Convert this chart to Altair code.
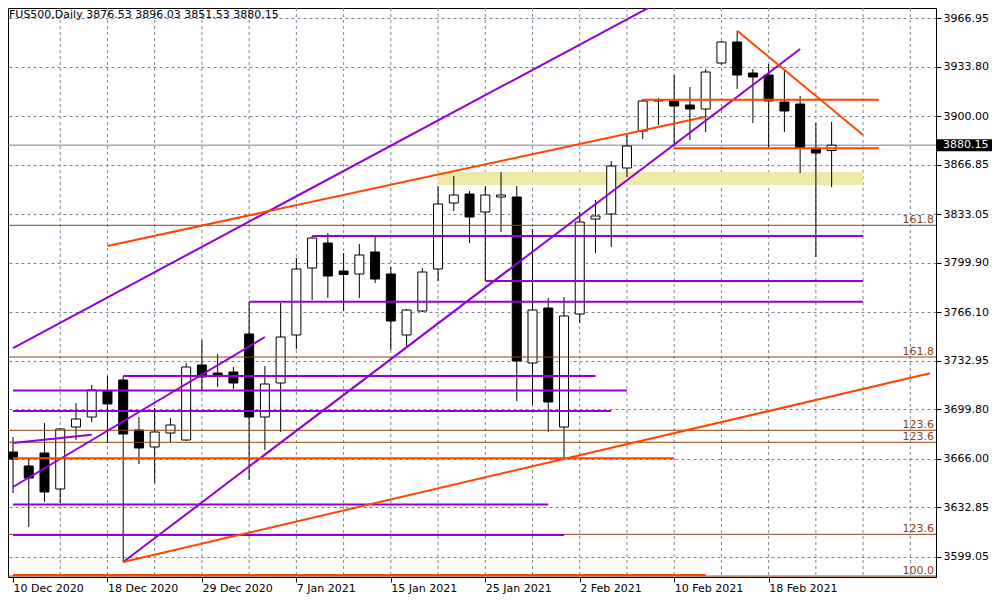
import json
import altair as alt
import pandas as pd

# ---------------- data ----------------
title_text = "FUS500,Daily  3876.53 3896.03 3851.53 3880.15"

date_labels = ["10 Dec 2020", "18 Dec 2020", "29 Dec 2020", "7 Jan 2021", "15 Jan 2021",
               "25 Jan 2021", "2 Feb 2021", "10 Feb 2021", "18 Feb 2021"]
label_bars = [0, 6, 12, 18, 24, 30, 36, 42, 48]
grid_bars = [3, 6, 9, 12, 15, 18, 21, 24, 27, 30, 33, 36, 39, 42, 45, 48, 51, 54, 57]

opens = [3670.70, 3661.15, 3670.02, 3645.45, 3687.77, 3694.59, 3712.34, 3719.85, 3685.72, 3674.11,
         3683.67, 3678.89, 3730.09, 3724.63, 3725.31, 3751.25, 3694.59, 3717.80, 3750.57, 3796.30,
         3813.36, 3794.25, 3792.20, 3807.22, 3792.20, 3750.57, 3766.95, 3795.62, 3840.67, 3846.81,
         3834.53, 3844.76, 3844.76, 3731.45, 3769.00, 3687.77, 3764.90, 3829.75, 3833.16, 3864.56,
         3889.82, 3910.29, 3910.29, 3907.56, 3904.83, 3936.23, 3950.57, 3929.41, 3928.04, 3909.61,
         3908.25, 3878.21, 3876.53]
highs = [3680.94, 3665.92, 3690.50, 3687.08, 3704.15, 3716.44, 3722.58, 3722.58, 3694.59, 3700.74,
         3693.91, 3731.45, 3747.15, 3737.60, 3728.72, 3773.09, 3729.41, 3772.41, 3803.13, 3818.15,
         3820.19, 3806.54, 3812.68, 3817.46, 3796.98, 3768.31, 3796.30, 3852.27, 3859.10, 3848.86,
         3852.27, 3861.83, 3852.27, 3822.92, 3775.82, 3776.50, 3834.53, 3842.72, 3869.34, 3887.09,
         3911.66, 3912.34, 3928.04, 3919.85, 3932.14, 3951.25, 3958.08, 3932.14, 3935.55, 3931.45,
         3913.71, 3895.28, 3896.03]
lows = [3642.71, 3619.51, 3636.57, 3635.89, 3678.89, 3691.18, 3676.84, 3595.62, 3662.51, 3649.54,
        3677.53, 3678.20, 3713.02, 3715.07, 3713.71, 3651.59, 3672.07, 3684.35, 3741.01, 3774.46,
        3775.82, 3766.95, 3775.82, 3786.06, 3740.33, 3742.37, 3766.30, 3787.43, 3835.21, 3813.36,
        3787.43, 3820.87, 3705.51, 3702.78, 3684.35, 3666.61, 3758.76, 3806.54, 3810.63, 3858.42,
        3884.36, 3893.91, 3879.58, 3883.67, 3889.13, 3934.87, 3918.49, 3895.28, 3878.89, 3889.13,
        3861.15, 3803.81, 3851.53]
closes = [3665.92, 3652.95, 3643.40, 3686.40, 3693.23, 3713.02, 3703.47, 3682.99, 3673.43, 3684.35,
          3689.13, 3728.72, 3721.90, 3722.92, 3717.80, 3694.59, 3717.12, 3749.20, 3795.62, 3816.78,
          3790.84, 3791.86, 3805.17, 3788.79, 3760.12, 3767.63, 3793.57, 3839.99, 3846.13, 3831.11,
          3846.13, 3846.13, 3732.82, 3767.63, 3704.83, 3763.54, 3827.70, 3831.80, 3865.93, 3879.58,
          3910.29, 3910.97, 3906.88, 3904.83, 3930.09, 3950.57, 3928.04, 3926.68, 3910.29, 3903.47,
          3878.21, 3874.80, 3880.15]

ytick_values = [3599.05, 3632.85, 3666.00, 3699.80, 3732.95, 3766.10, 3799.90, 3833.05,
                3866.85, 3900.00, 3933.80, 3966.95]

# drawn objects: (start bar, start price, end bar, end price)
purple_lines = [
    (0, 3741.69, 40.94, 3977.19),
    (7, 3595.62, 50, 3945.79),
    (0, 3646.81, 16, 3749.20),
    (0, 3676.84, 5, 3682.51),
    (19, 3818.15, 54, 3818.15),
    (30, 3787.43, 54, 3787.43),
    (15, 3773.30, 54, 3773.30),
    (7, 3722.58, 37, 3722.58),
    (0, 3712.68, 39, 3712.68),
    (0, 3698.69, 38, 3698.69),
    (0, 3634.86, 34, 3634.86),
    (0, 3614.05, 35, 3614.05),
]
orange_lines = [
    (6, 3811.32, 44, 3899.58),
    (7, 3595.62, 58.25, 3724.42),
    (0, 3666.40, 42, 3666.40),
    (0, 3586.74, 44, 3586.74),
    (40, 3911.18, 55, 3911.18),
    (42, 3877.99, 55, 3877.99),
    (46, 3958.28, 54, 3887.09),
]
fib_prices = [3825.45, 3735.55, 3685.52, 3677.33, 3614.50, 3586.00]
fib_labels = ["161.8", "161.8", "123.6", "123.6", "123.6", "100.0"]
zone_bars = [27, 54]
zone_prices = [3852.96, 3861.83]
last_price = 3880.15

x_domain = [0, 58.3125]
y_domain = [3585.38, 3973.78]

# ---------------- chart ----------------
W, H = 928, 569
FONT = "DejaVu Sans"
GRID = "#778899"
PURPLE = "#9400D3"
ORANGE = "#FF4500"
BROWN = "#8B4513"

xs = alt.Scale(domain=x_domain, nice=False, zero=False)
ys = alt.Scale(domain=y_domain, nice=False, zero=False)

candles = pd.DataFrame({"bar": list(range(len(opens))), "open": opens, "high": highs,
                        "low": lows, "close": closes})

label_expr = f"{json.dumps(date_labels)}[indexof({json.dumps(label_bars)}, datum.value)]"
x_axis = alt.Axis(values=label_bars, labelExpr=label_expr, title=None, grid=False, domain=False,
                  ticks=True, tickSize=5, tickColor="black", labelAlign="left", labelBaseline="top",
                  labelPadding=0, labelFlush=False, labelOverlap=False, labelFont=FONT,
                  labelFontSize=11, labelColor="black")
y_axis = alt.Axis(orient="right", values=ytick_values, format=".2f", title=None, grid=True,
                  gridColor=GRID, gridDash=[3, 3], gridWidth=1, domain=False, tickSize=5,
                  tickColor="black", labelPadding=2, labelFont=FONT, labelFontSize=11,
                  labelColor="black", labelOverlap=False)


def X(field):
    return alt.X(field, scale=xs, axis=x_axis)


def Y(field):
    return alt.Y(field, scale=ys, axis=y_axis)


vgrid = alt.Chart(pd.DataFrame({"g": grid_bars})).mark_rule(
    color=GRID, strokeDash=[3, 3], strokeWidth=1).encode(x=X("g:Q"))

zone = alt.Chart(pd.DataFrame({"b1": [zone_bars[0]], "b2": [zone_bars[1]],
                               "p1": [zone_prices[0]], "p2": [zone_prices[1]]})).mark_rect(
    color="#EEE8AA", clip=True).encode(x=X("b1:Q"), x2="b2:Q", y=Y("p1:Q"), y2="p2:Q")

price_df = pd.DataFrame({"p": [last_price]})
price_line = alt.Chart(price_df).mark_rule(color="#808080", strokeWidth=1).encode(y=Y("p:Q"))

wicks = alt.Chart(candles).mark_rule(color="black", strokeWidth=1, clip=True).encode(
    x=X("bar:Q"), y=Y("low:Q"), y2="high:Q")

bodies = alt.Chart(candles).mark_bar(size=9, stroke="black", strokeWidth=1, clip=True).encode(
    x=X("bar:Q"), y=Y("open:Q"), y2="close:Q",
    fill=alt.condition("datum.close >= datum.open", alt.value("white"), alt.value("black")))

fib_df = pd.DataFrame({"price": fib_prices, "label": fib_labels})
fib_rules = alt.Chart(fib_df).mark_rule(color=BROWN, strokeWidth=1).encode(y=Y("price:Q"))
fib_text = alt.Chart(fib_df).mark_text(
    align="right", baseline="bottom", font=FONT, fontSize=11, color=BROWN).encode(
    x=alt.value(W - 2), y=Y("price:Q"), text="label:N")


def seg_layer(lines, color):
    df = pd.DataFrame(lines, columns=["b1", "p1", "b2", "p2"])
    return alt.Chart(df).mark_rule(color=color, strokeWidth=2, clip=True).encode(
        x=X("b1:Q"), x2="b2:Q", y=Y("p1:Q"), y2="p2:Q")


purple = seg_layer(purple_lines, PURPLE)
orange = seg_layer(orange_lines, ORANGE)

box = alt.Chart(price_df).mark_rule(color="black", strokeWidth=12).encode(
    x=alt.value(W + 1), x2=alt.value(W + 56), y=Y("p:Q"))
box_text = alt.Chart(price_df).mark_text(
    align="left", baseline="middle", font=FONT, fontSize=11, color="white").encode(
    x=alt.value(W + 7), y=Y("p:Q"), text=alt.Text("p:Q", format=".2f"))

title = alt.Chart(pd.DataFrame({"t": [title_text]})).mark_text(
    align="left", baseline="top", font=FONT, fontSize=11, color="black").encode(
    x=alt.value(1), y=alt.value(1), text="t:N")

chart = alt.layer(
    vgrid, zone, price_line, wicks, bodies, fib_rules, purple, orange, fib_text,
    box, box_text, title
).properties(
    width=W, height=H, background="white",
    autosize=alt.AutoSizeParams(type="none"),
    padding={"left": 0, "top": 0, "right": 56, "bottom": 22},
).configure_view(stroke="black", strokeWidth=1)

chart.save("out.html", embed_options={"renderer": "svg", "actions": False})
